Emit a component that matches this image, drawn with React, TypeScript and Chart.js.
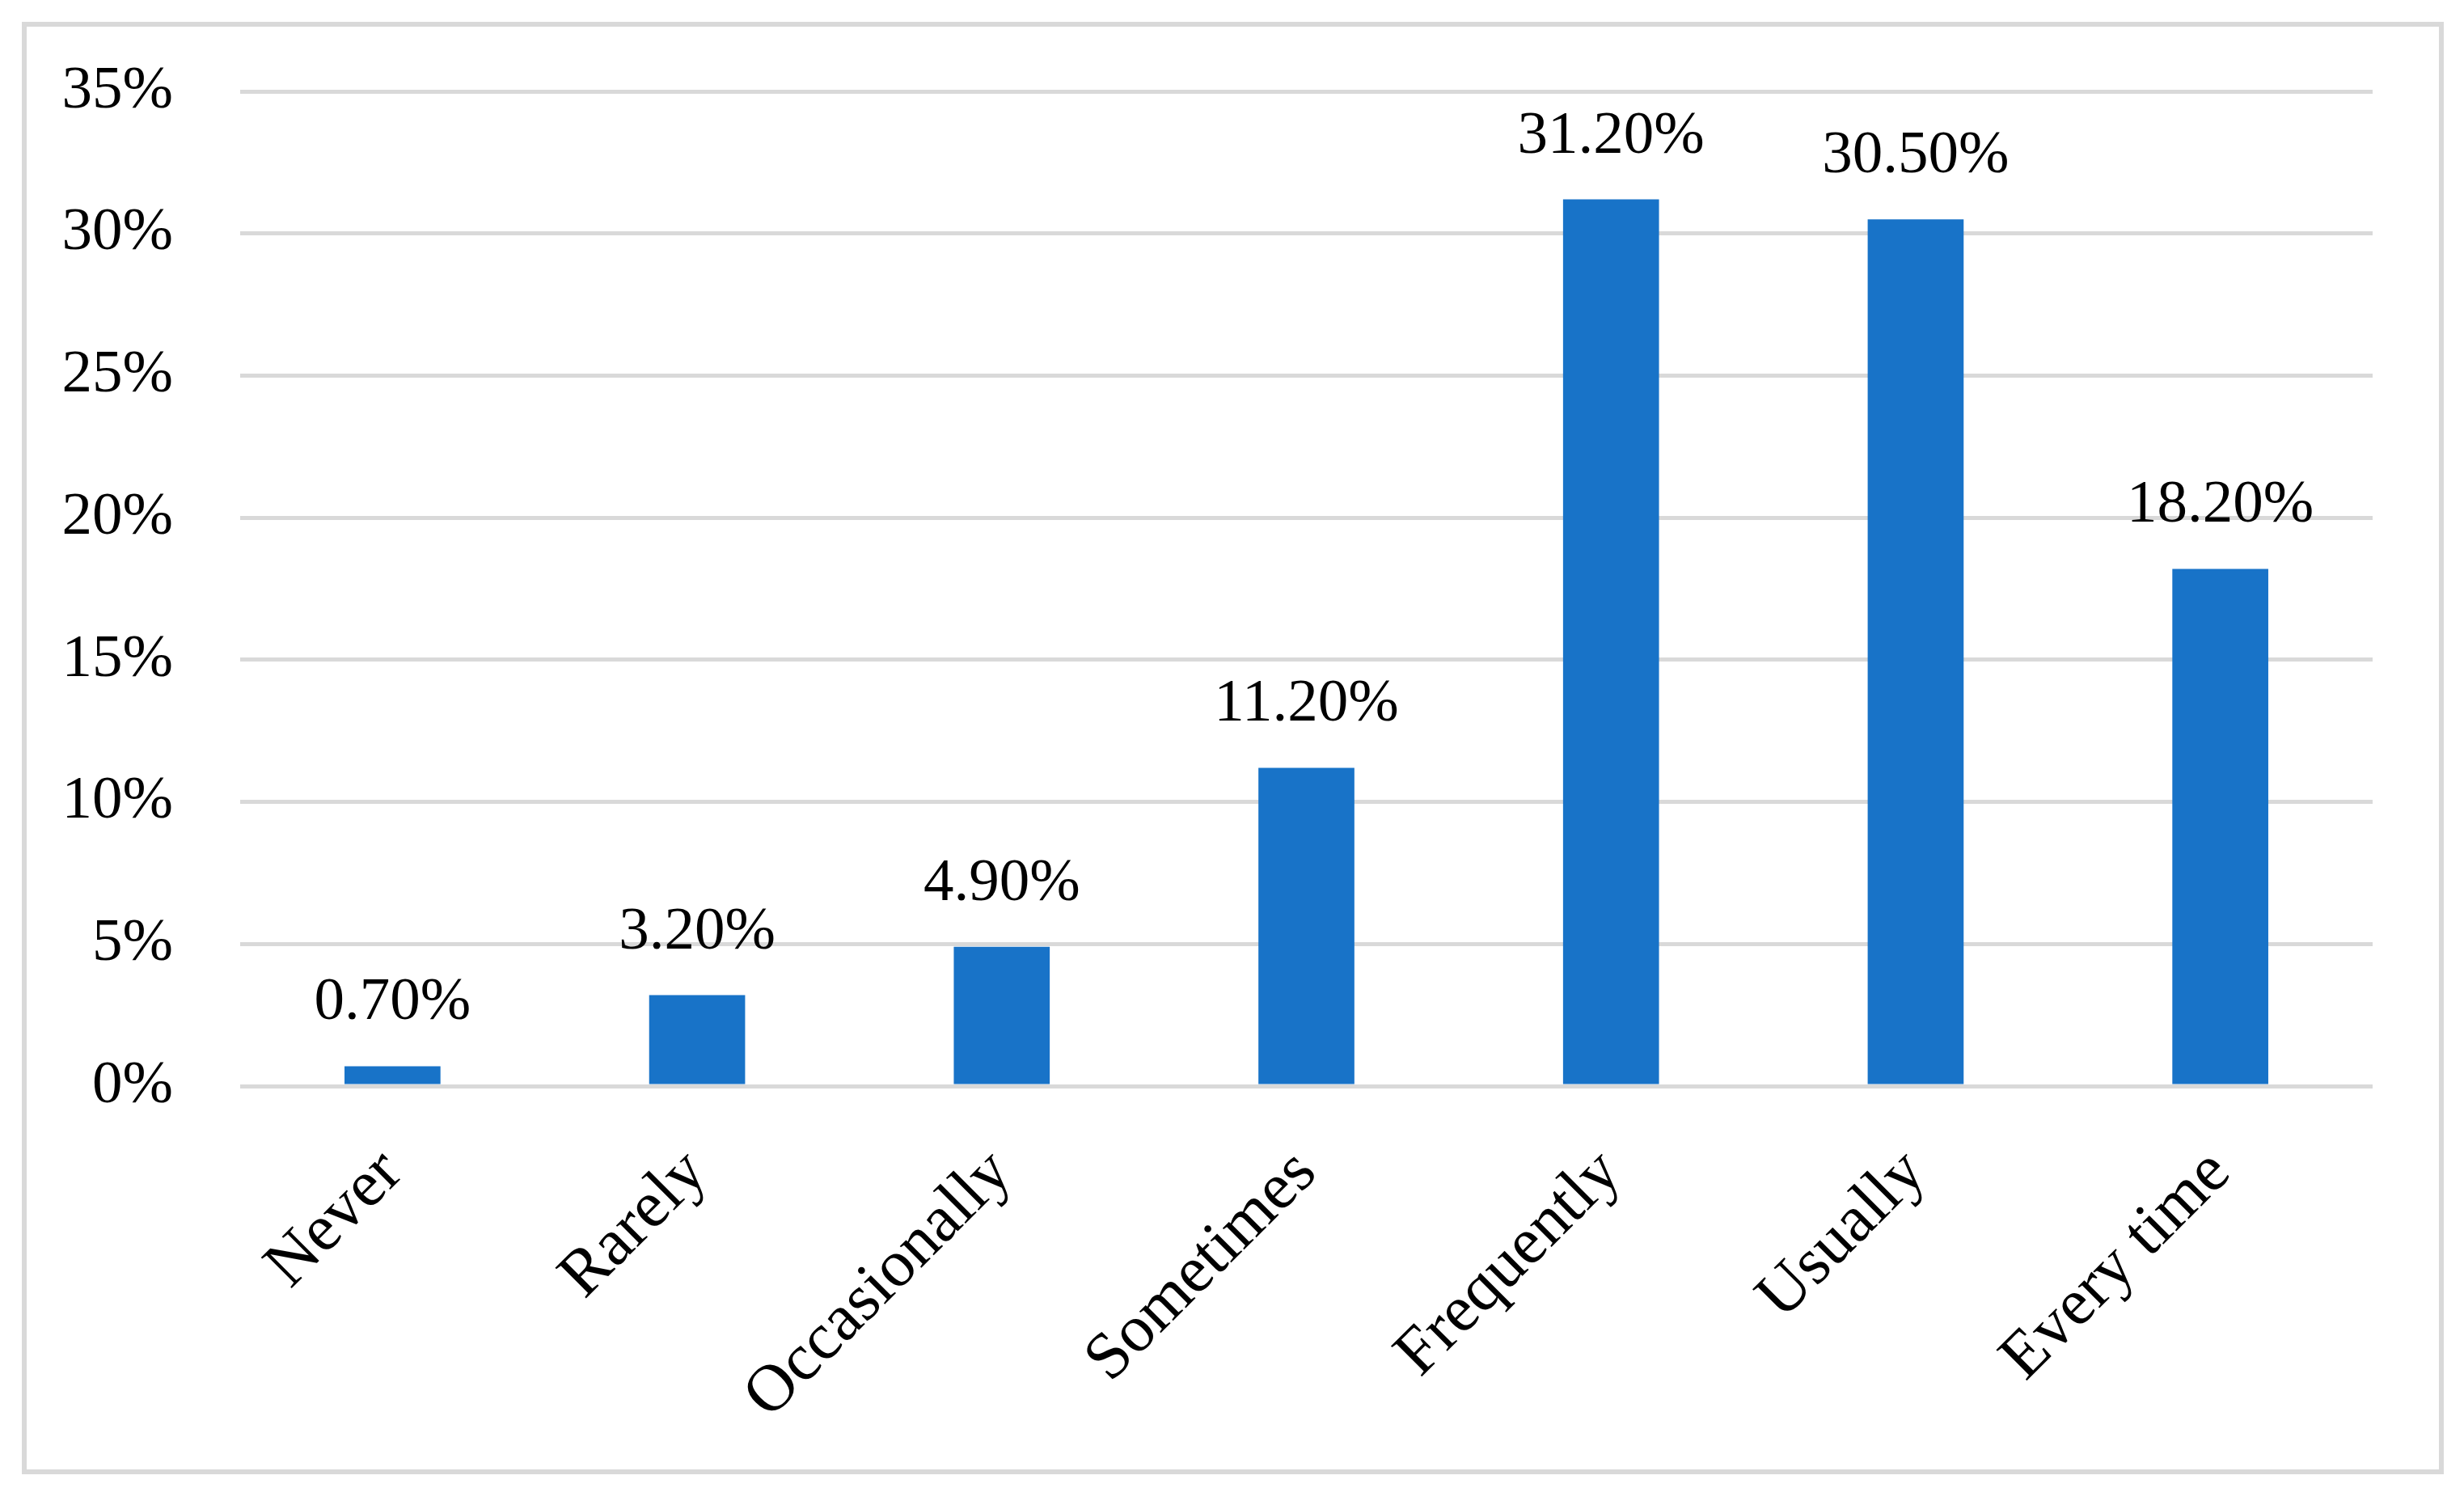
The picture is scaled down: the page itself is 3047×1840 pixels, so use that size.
import React, { useEffect, useRef } from "react";
import { Chart, registerables } from "chart.js";

Chart.register(...registerables);

const categories = ["Never", "Rarely", "Occasionally", "Sometimes", "Frequently", "Usually", "Every time"];
const values = [0.7, 3.2, 4.9, 11.2, 31.2, 30.5, 18.2];
const yTicks = [0, 5, 10, 15, 20, 25, 30, 35];

const FONT = "'Liberation Serif', 'Times New Roman', serif";

const dataLabelPlugin = {
  id: "dataLabels",
  afterDatasetsDraw(chart: any) {
    const ctx = chart.ctx;
    const meta = chart.getDatasetMeta(0);
    ctx.save();
    ctx.font = `75px ${FONT}`;
    ctx.fillStyle = "#000000";
    ctx.textAlign = "center";
    ctx.textBaseline = "alphabetic";
    meta.data.forEach((bar: any, i: number) => {
      ctx.fillText(values[i].toFixed(2) + "%", bar.x, bar.y - 58);
    });
    ctx.restore();
  },
};

export default function App() {
  const ref = useRef<HTMLCanvasElement | null>(null);
  useEffect(() => {
    if (!ref.current) return;
    const chart = new Chart(ref.current, {
      type: "bar",
      data: {
        labels: categories,
        datasets: [
          {
            data: values,
            backgroundColor: "#1873C8",
            borderWidth: 0,
            categoryPercentage: 1,
            barPercentage: 0.315,
          },
        ],
      },
      options: {
        animation: false,
        responsive: false,
        devicePixelRatio: 1,
        layout: { padding: { left: 0, top: 113, right: 113, bottom: 0 } },
        plugins: { legend: { display: false }, tooltip: { enabled: false } },
        scales: {
          x: {
            grid: { display: false },
            border: { display: false },
            ticks: {
              color: "#000000",
              font: { family: FONT, size: 82 },
              maxRotation: 45,
              minRotation: 45,
              autoSkip: false,
              padding: 52,
            },
            afterFit(scale: any) {
              scale.height = 497;
            },
          },
          y: {
            min: 0,
            max: 35,
            afterBuildTicks(scale: any) {
              scale.ticks = yTicks.map((v) => ({ value: v }));
            },
            grid: {
              color: "#d9d9d9",
              lineWidth: 5,
              drawTicks: true,
              tickLength: 83,
              tickColor: "rgba(0,0,0,0)",
            },
            border: { display: false },
            ticks: {
              color: "#000000",
              font: { family: FONT, size: 75 },
              padding: 0,
              callback: (v: any) => v + "%",
            },
            afterFit(scale: any) {
              scale.width = 297;
            },
          },
        },
      },
      plugins: [dataLabelPlugin],
    });
    return () => chart.destroy();
  }, []);

  return (
    <div style={{ position: "fixed", left: 0, top: 0, width: 3047, height: 1840, background: "#ffffff" }}>
      <canvas ref={ref} width={3047} height={1840} style={{ position: "absolute", left: 0, top: 0, width: 3047, height: 1840 }} />
      <div
        style={{
          position: "absolute",
          left: 27,
          top: 27,
          width: 2995,
          height: 1796,
          border: "6px solid #d9d9d9",
          boxSizing: "border-box",
          pointerEvents: "none",
        }}
      />
    </div>
  );
}
